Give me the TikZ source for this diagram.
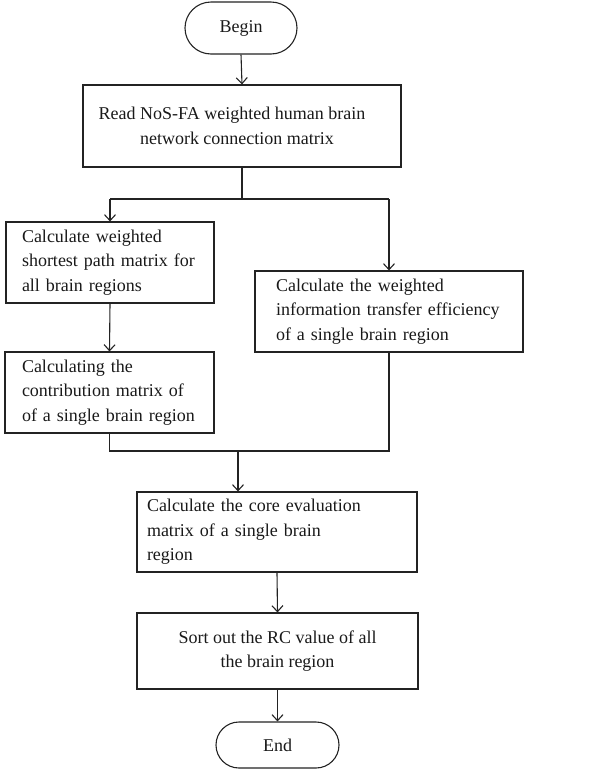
\documentclass[tikz,border=0pt]{standalone}
\usepackage{fontspec}
\setmainfont{Liberation Serif}
\usetikzlibrary{arrows.meta,shapes.misc}
\definecolor{linecol}{RGB}{35,35,35}
\definecolor{textcol}{RGB}{25,25,25}
\begin{document}
\begin{tikzpicture}[x=1pt,y=-1pt,
  txt/.style={font=\fontsize{18}{24.5}\selectfont, text=textcol},
  box/.style={txt, draw=linecol, line width=1.1pt, rectangle, inner ysep=0pt},
  term/.style={txt, draw=linecol, line width=1.1pt, rounded rectangle, inner sep=0pt},
  conn/.style={draw=linecol, line width=1.1pt},
  arr/.style={conn, -{Straight Barb[length=6pt,width=11pt]}}]
\useasboundingbox (0,0) rectangle (608,769);

\node[term, minimum width=112pt, minimum height=52pt] (begin) at (241,28) {Begin};

\node[box, minimum width=318pt, minimum height=82pt, align=center] (read) at (242,126)
  {Read NoS-FA weighted human brain\hspace*{20pt}\\network connection matrix\hspace*{10pt}};

\node[box, inner xsep=16pt, text width=176pt, minimum height=81pt, align=left] (left1) at (110,262.5)
  {Calculate weighted\\shortest path matrix for\\all brain regions};

\node[box, inner xsep=21pt, text width=226pt, minimum height=81pt, align=left] (right) at (389,311.5)
  {Calculate the weighted\\information transfer efficiency\\of a single brain region};

\node[box, inner xsep=17pt, text width=175pt, minimum height=81pt, align=left] (left2) at (109.5,392.5)
  {Calculating the\\contribution matrix of\\of a single brain region};

\node[box, inner xsep=10pt, text width=260pt, minimum height=80pt, align=left] (core) at (277,532)
  {Calculate the core evaluation\\matrix of a single brain\\region};

\node[box, minimum width=281pt, minimum height=76pt, align=center] (sort) at (277.5,651)
  {Sort out the RC value of all\\the brain region};

\node[term, minimum width=123pt, minimum height=46pt] (end) at (277.5,745) {End};

% connectors
\draw[arr] (begin.south) -- (read.north);
\coordinate (split) at (242,199);
\coordinate (sl) at (left1.north |- split);
\coordinate (sr) at (right.north |- split);
\draw[conn] (read.south) -- (split);
\draw[conn] (sl) -- (sr);
\draw[arr] (sl) -- (left1.north);
\draw[arr] (sr) -- (right.north);
\draw[arr] (left1.south) -- (left2.north);

\coordinate (jy) at (238,451);
\coordinate (jl) at (left2.south |- jy);
\coordinate (jr) at (right.south |- jy);
\draw[conn] (left2.south) -- (jl) -- (jr) -- (right.south);
\draw[arr] (jy) -- (jy |- core.north);
\draw[arr] (core.south) -- (sort.north);
\draw[arr] (sort.south) -- (end.north);
\end{tikzpicture}
\end{document}
